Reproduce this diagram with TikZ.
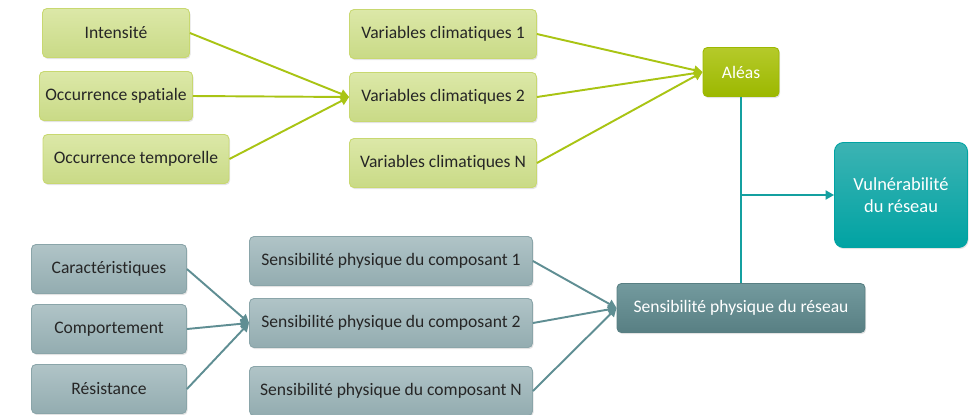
\documentclass[tikz,border=0pt]{standalone}
\usepackage{fontspec}
\setmainfont{Carlito}[Ligatures={NoCommon}]
\usetikzlibrary{arrows.meta, shadows}
\definecolor{lime}{HTML}{A9C414}
\definecolor{limetop}{HTML}{DCE8A8}
\definecolor{limebot}{HTML}{C9DA86}
\definecolor{limeedge}{HTML}{C8D870}
\definecolor{aleastop}{HTML}{B5CA2A}
\definecolor{aleasbot}{HTML}{9CB800}
\definecolor{teal}{HTML}{14A0A0}
\definecolor{tealtop}{HTML}{3CB3B3}
\definecolor{tealbot}{HTML}{00A3A3}
\definecolor{slate}{HTML}{5F8E93}
\definecolor{slatetop}{HTML}{B0C4C7}
\definecolor{slatebot}{HTML}{93ACB0}
\definecolor{slateedge}{HTML}{8AA5A9}
\definecolor{reseautop}{HTML}{739A9E}
\definecolor{reseaubot}{HTML}{587F83}
\definecolor{ink}{HTML}{262626}

\begin{document}
\begin{tikzpicture}[x=0.02cm, y=-0.02cm,
  >={Triangle[length=1.7mm, width=1.8mm]},
  box/.style={rounded corners=2.5pt, minimum height=0.98cm, align=center,
    font=\fontsize{10}{12}\selectfont, text=ink, line width=0.5pt,
    drop shadow={opacity=0.22, shadow xshift=0.6pt, shadow yshift=-0.9pt}},
  hazard/.style={box, draw=limeedge, top color=limetop, bottom color=limebot},
  physic/.style={box, draw=slateedge, top color=slatetop, bottom color=slatebot},
  limearrow/.style={draw=lime, line width=1.1pt, ->},
  slatearrow/.style={draw=slate, line width=1.1pt, ->}]

% Frame of the picture
\useasboundingbox (0,0) rectangle (973,414);

%%% Hazard side %%%
\node[hazard, minimum width=2.94cm] (intens) at (116,33) {Intensité};
\node[hazard, minimum width=2.94cm] (spatial) at (116,96) {Occurrence spatiale};
\node[hazard, minimum width=3.72cm] (tempo) at (136,159) {Occurrence temporelle};

\node[hazard, minimum width=3.74cm] (var1) at (443,34) {Variables climatiques 1};
\node[hazard, minimum width=3.74cm] (var2) at (443,97) {Variables climatiques 2};
\node[hazard, minimum width=3.74cm] (varN) at (443,163) {Variables climatiques N};

\node[box, minimum width=1.52cm, draw=aleasbot, top color=aleastop, bottom color=aleasbot,
  text=white] (aleas) at (741,72) {Aléas};

%%% Network side %%%
\node[physic, minimum width=3.1cm] (caract) at (109,269) {Caractéristiques};
\node[physic, minimum width=3.1cm] (comport) at (109,329) {Comportement};
\node[physic, minimum width=3.1cm] (resist) at (109,389) {Résistance};

\node[physic, minimum width=5.66cm] (comp1) at (391,261) {Sensibilité physique du composant 1};
\node[physic, minimum width=5.66cm] (comp2) at (391,323) {Sensibilité physique du composant 2};
\node[physic, minimum width=5.66cm] (compN) at (391,391) {Sensibilité physique du composant N};

\node[box, minimum width=4.96cm, draw=reseaubot, top color=reseautop, bottom color=reseaubot,
  text=white] (reseau) at (741,308) {Sensibilité physique du réseau};

%%% Result %%%
\node[box, minimum width=2.66cm, minimum height=2.1cm, rounded corners=5pt, draw=tealbot,
  top color=tealtop, bottom color=tealbot, text=white,
  font=\fontsize{10.5}{12.5}\selectfont] (vulner) at (901,195) {Vulnérabilité\\du réseau};

% Connectors
\foreach \src in {intens, spatial, tempo}
  \draw[limearrow] (\src.east) -- (var2.west);
\foreach \src in {var1, var2, varN}
  \draw[limearrow] (\src.east) -- (aleas.west);
\foreach \src in {caract, comport, resist}
  \draw[slatearrow] (\src.east) -- (comp2.west);
\foreach \src in {comp1, comp2, compN}
  \draw[slatearrow] (\src.east) -- (reseau.west);

\coordinate (branch) at (aleas.south |- vulner.west);
\draw[teal, line width=1.1pt] (aleas.south) -- (reseau.north);
\draw[teal, line width=1.1pt, ->] (branch) -- (vulner.west);

\end{tikzpicture}
\end{document}
